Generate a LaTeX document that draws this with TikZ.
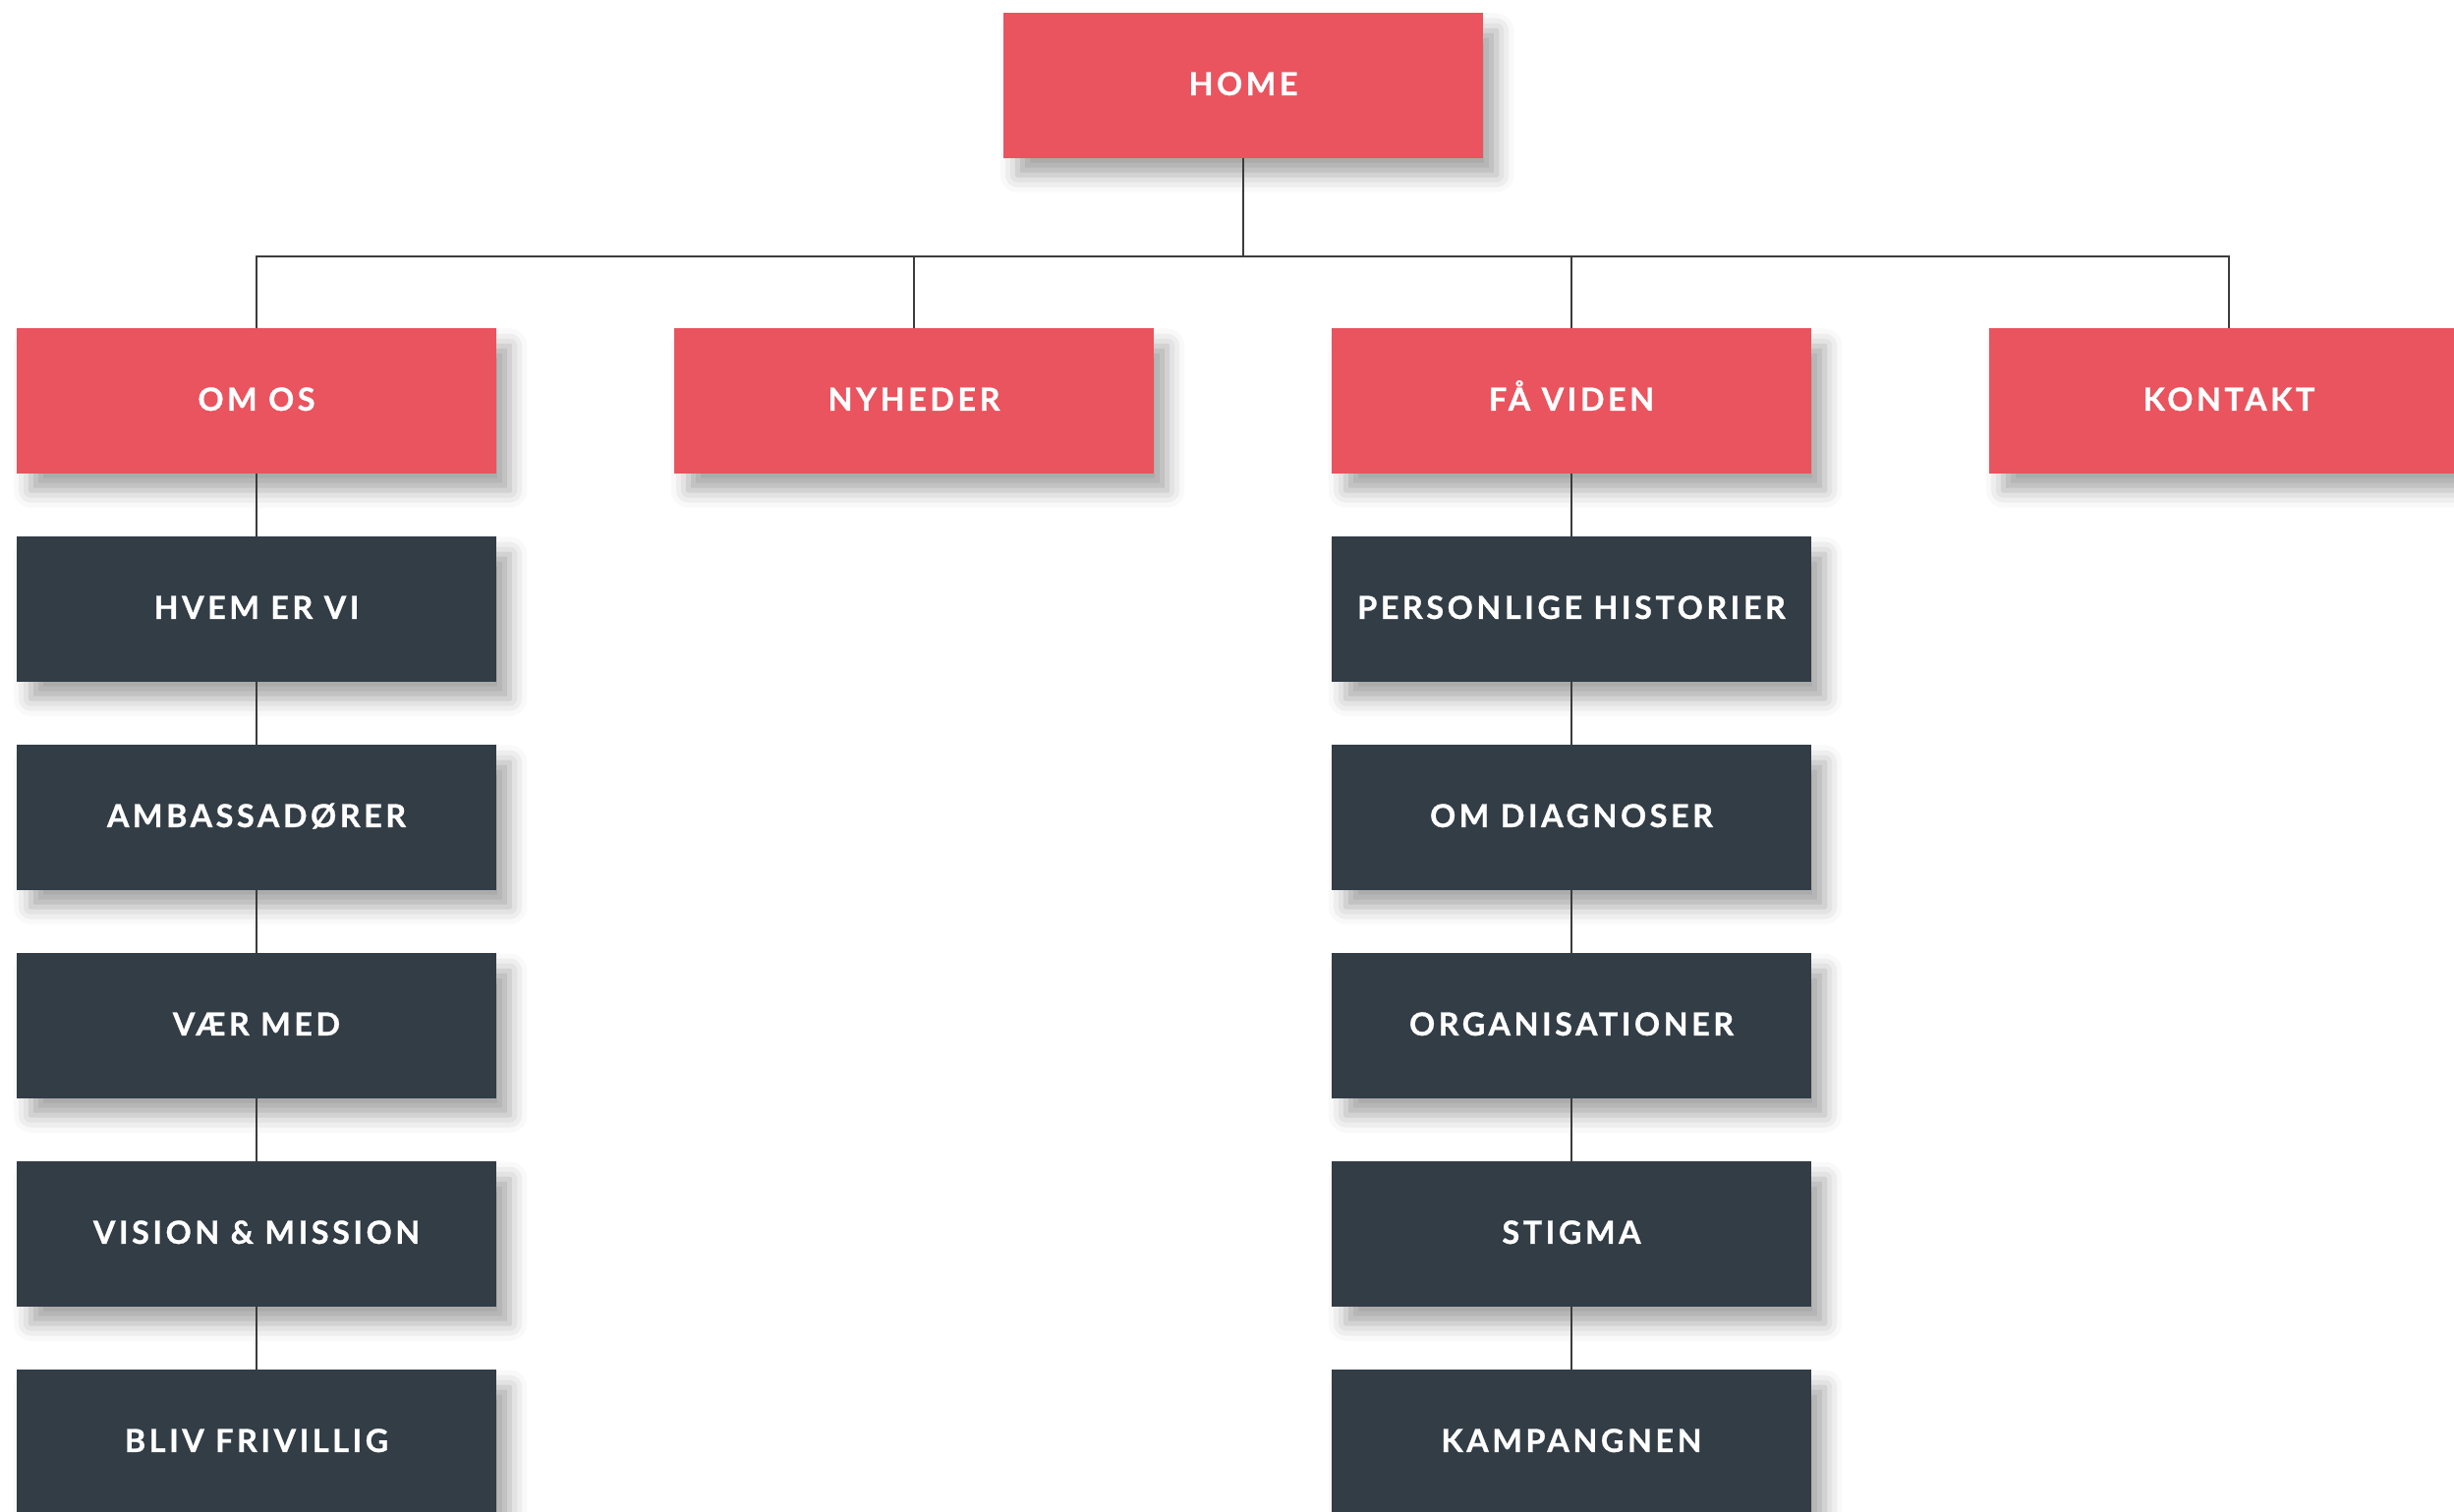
\documentclass[tikz,border=0pt]{standalone}
\usepackage{fontspec}
\setmainfont{Lato}[UprightFont=* Bold, LetterSpace=11, FakeBold=0.9]
\usetikzlibrary{shadows.blur}
\definecolor{boxred}{RGB}{233,84,94}
\definecolor{boxdark}{RGB}{50,61,70}
\definecolor{linegrey}{RGB}{60,60,60}
\tikzset{
  basebox/.style={rectangle, minimum width=4.87cm, minimum height=1.47cm, inner sep=0pt,
    text=white, font=\fontsize{9.2}{11}\selectfont, text height=1.45ex, text depth=0.35ex,
    blur shadow={shadow xshift=4pt, shadow yshift=-5pt, shadow blur radius=5pt, shadow opacity=35}},
  redbox/.style={basebox, fill=boxred},
  darkbox/.style={basebox, fill=boxdark},
  link/.style={draw=linegrey, line width=0.6pt}
}
\begin{document}
\begin{tikzpicture}[x=0.01cm, y=-0.01cm]
\useasboundingbox (0,0) rectangle (2497,1538);
% top
\node[redbox] (home) at (1265,87) {HOME};
% level 1
\node[redbox] (omos)   at (261,408)  {OM OS};
\node[redbox] (nyh)    at (930,408)  {NYHEDER};
\node[redbox] (faa)    at (1599,408) {FÅ VIDEN};
\node[redbox] (kont)   at (2268,408) {KONTAKT};
% column OM OS
\node[darkbox] (hvem)  at (261,620)  {HVEM ER VI};
\node[darkbox] (amb)   at (261,832)  {AMBASSADØRER};
\node[darkbox] (vaer)  at (261,1044) {VÆR MED};
\node[darkbox] (vis)   at (261,1256) {VISION \& MISSION};
\node[darkbox] (bliv)  at (261,1468) {BLIV FRIVILLIG};
% column FÅ VIDEN
\node[darkbox] (pers)  at (1599,620)  {PERSONLIGE HISTORIER};
\node[darkbox] (diag)  at (1599,832)  {OM DIAGNOSER};
\node[darkbox] (org)   at (1599,1044) {ORGANISATIONER};
\node[darkbox] (stig)  at (1599,1256) {STIGMA};
\node[darkbox] (kamp)  at (1599,1468) {KAMPANGNEN};
% bus
\coordinate (bus) at (1265,261);
\foreach \c in {omos,nyh,faa,kont}{
  \draw[link] (home.south) -- (home.south |- bus) -| (\c.north);
}
\draw[link] (omos.south) -- (hvem.north);
\draw[link] (hvem.south) -- (amb.north);
\draw[link] (amb.south) -- (vaer.north);
\draw[link] (vaer.south) -- (vis.north);
\draw[link] (vis.south) -- (bliv.north);
\draw[link] (faa.south) -- (pers.north);
\draw[link] (pers.south) -- (diag.north);
\draw[link] (diag.south) -- (org.north);
\draw[link] (org.south) -- (stig.north);
\draw[link] (stig.south) -- (kamp.north);
\end{tikzpicture}
\end{document}
